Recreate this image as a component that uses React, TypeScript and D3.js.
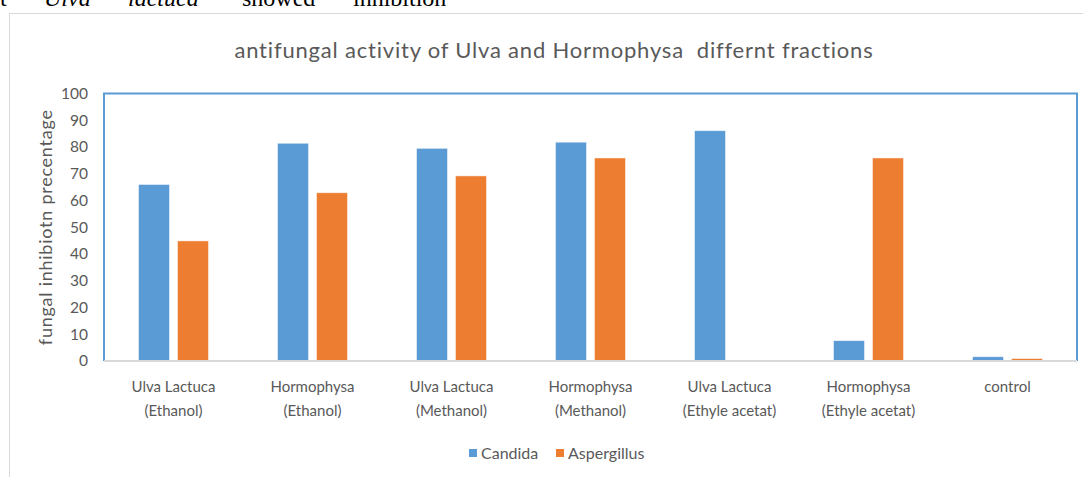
import * as d3 from "d3";

const categories = [
  ["Ulva Lactuca", "(Ethanol)"],
  ["Hormophysa", "(Ethanol)"],
  ["Ulva Lactuca", "(Methanol)"],
  ["Hormophysa", "(Methanol)"],
  ["Ulva Lactuca", "(Ethyle acetat)"],
  ["Hormophysa", "(Ethyle acetat)"],
  ["control"],
];
const seriesNames = ["Candida", "Aspergillus"];
const candida = [66, 81.4, 79.5, 81.8, 86.1, 7.6, 1.6];
const aspergillus = [44.9, 62.9, 69.2, 75.9, 0, 75.9, 0.9];
const yTicks = [0, 10, 20, 30, 40, 50, 60, 70, 80, 90, 100];
const colors = ["#5B9BD5", "#ED7D31"];

const font = "Lato, 'Open Sans', sans-serif";
const grey = "#595959";

export default function App() {
  const width = 1083;
  const height = 477;
  const plot = { left: 104, right: 1077, top: 93.5, bottom: 361 };

  const keys = categories.map((c) => c.join(" "));
  const x = d3
    .scaleBand()
    .domain(keys)
    .range([plot.left, plot.right])
    .paddingInner(0)
    .paddingOuter(0);
  const inner = d3
    .scaleBand()
    .domain(seriesNames)
    .range([0, x.bandwidth()])
    .paddingInner(0.205)
    .paddingOuter(0.885);
  const y = d3.scaleLinear().domain([0, 100]).range([plot.bottom, plot.top]);

  const values = [candida, aspergillus];

  return (
    <svg
      width={width}
      height={height}
      style={{ position: "absolute", left: 0, top: 0, background: "#fff" }}
    >
      {/* document text cut off above the chart */}
      <text
        y={6}
        fontFamily="'Liberation Serif', 'Times New Roman', serif"
        fontSize={24}
        fill="#000"
      >
        <tspan x={0}>t</tspan>
        <tspan x={44} fontStyle="italic">Ulva</tspan>
        <tspan x={128} fontStyle="italic">lactuca</tspan>
        <tspan x={242}>showed</tspan>
        <tspan x={353}>inhibition</tspan>
      </text>

      <rect
        x={9.5}
        y={13.5}
        width={width + 20}
        height={height + 20}
        fill="none"
        stroke="#d9d9d9"
        strokeWidth={1}
      />

      <text
        x={554}
        y={58}
        textAnchor="middle"
        fontFamily={font}
        fontSize={22}
        letterSpacing={0.8}
        fill={grey}
        style={{ whiteSpace: "pre" }}
      >
        antifungal activity of Ulva and Hormophysa  differnt fractions
      </text>

      {/* plot frame */}
      <path
        d={`M${plot.left},${plot.bottom}V${plot.top}H${plot.right}V${plot.bottom}`}
        fill="none"
        stroke="#5B9BD5"
        strokeWidth={2}
      />

      {yTicks.map((t) => (
        <text
          key={t}
          x={88}
          y={y(t)}
          dy="0.35em"
          textAnchor="end"
          fontFamily={font}
          fontSize={15.5}
          fill={grey}
        >
          {t}
        </text>
      ))}

      <text
        transform={`translate(52,${(plot.top + plot.bottom) / 2}) rotate(-90)`}
        textAnchor="middle"
        fontFamily={font}
        fontSize={18}
        letterSpacing={0.75}
        fill={grey}
      >
        fungal inhibiotn precentage
      </text>

      {keys.map((k, i) => (
        <g key={k} transform={`translate(${x(k)},0)`}>
          {seriesNames.map((s, j) =>
            values[j][i] > 0 ? (
              <rect
                key={s}
                x={inner(s)}
                y={y(values[j][i])}
                width={inner.bandwidth()}
                height={plot.bottom - y(values[j][i])}
                fill={colors[j]}
                stroke="#fff"
                strokeOpacity={0.6}
                strokeWidth={0.8}
              />
            ) : null
          )}
          {categories[i].map((line, li) => (
            <text
              key={li}
              x={x.bandwidth() / 2}
              y={392 + li * 24}
              textAnchor="middle"
              fontFamily={font}
              fontSize={15}
              fill={grey}
            >
              {line}
            </text>
          ))}
        </g>
      ))}

      <line
        x1={plot.left}
        x2={plot.right}
        y1={plot.bottom}
        y2={plot.bottom}
        stroke="#d9d9d9"
        strokeWidth={2}
      />

      {seriesNames.map((s, j) => {
        const lx = [469, 556][j];
        return (
          <g key={s}>
            <rect x={lx} y={449} width={8} height={8} fill={colors[j]} />
            <text
              x={lx + 12}
              y={459}
              fontFamily={font}
              fontSize={16}
              fill={grey}
            >
              {s}
            </text>
          </g>
        );
      })}
    </svg>
  );
}
